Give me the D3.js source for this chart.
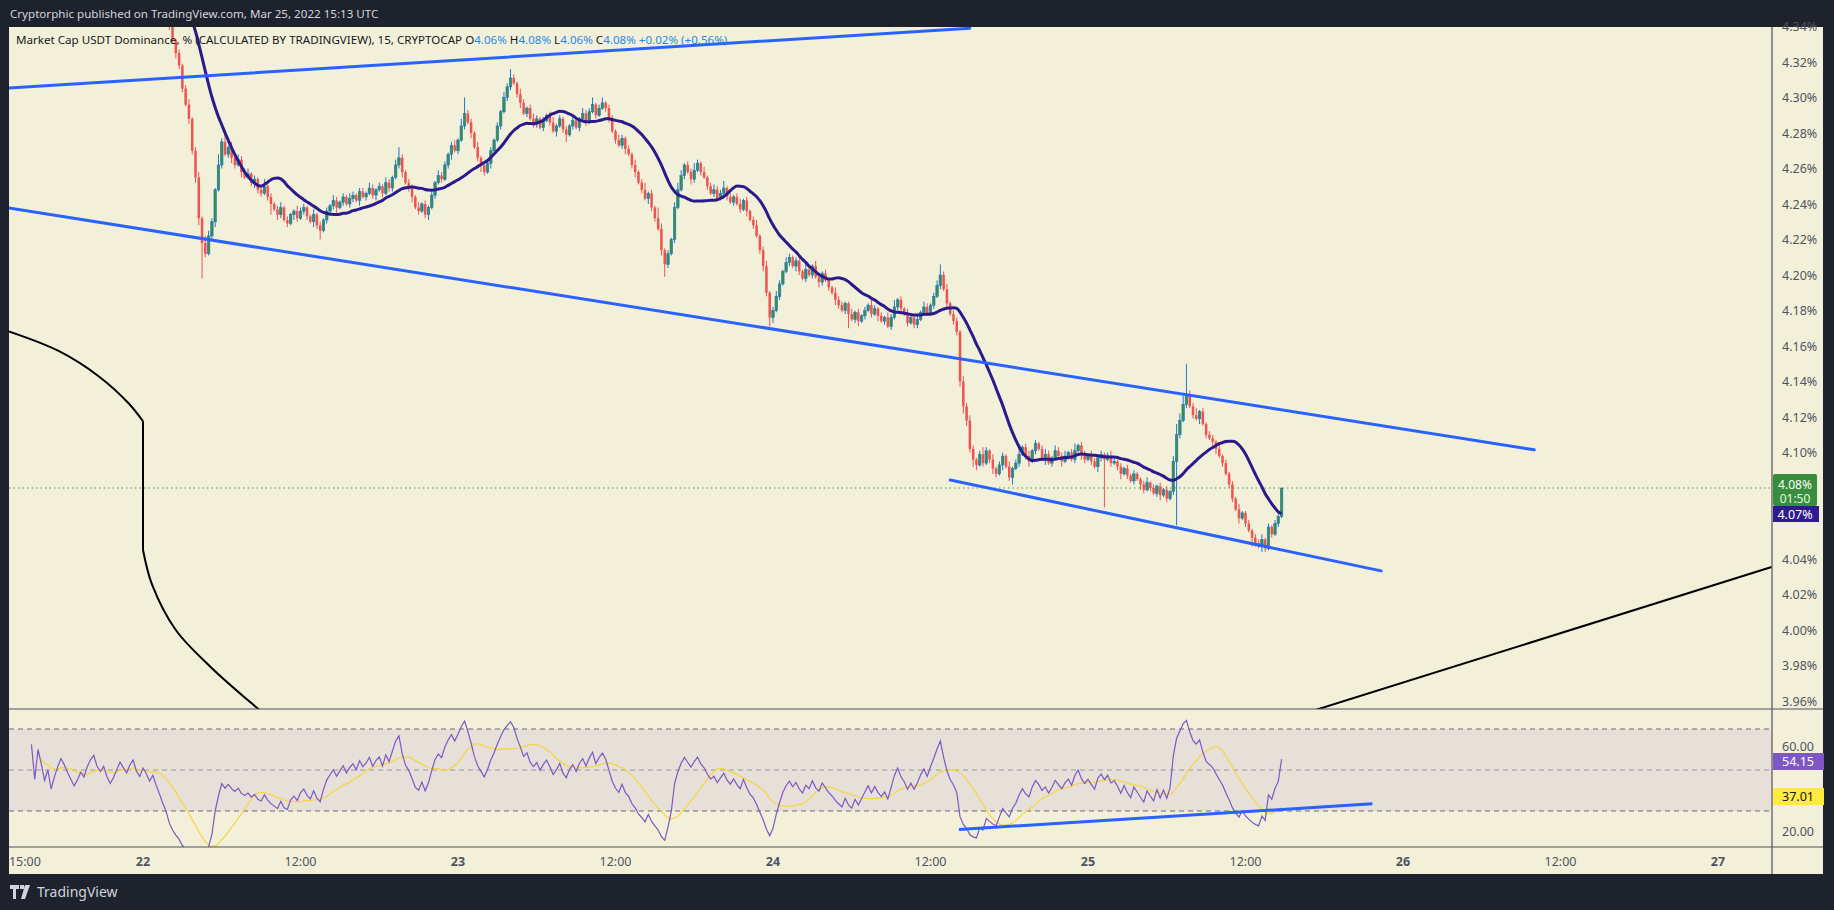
<!DOCTYPE html>
<html><head><meta charset="utf-8">
<script src="https://cdn.jsdelivr.net/npm/d3@7"></script>
<style>body{margin:0;background:#1e222d;overflow:hidden}svg{display:block;font-family:"Noto Sans",Roboto,sans-serif}</style>
</head><body><svg id="c" width="1834" height="910"></svg>
<script>
// 15-minute closes, in thousandths of a percent above 4.000%, starting Mar 21 15:00 UTC
const closes = [
371,368,373,370, 374,372,369,371, 366,369,372,375, 373,370,367,364,
366,369,367,371, 374,376,372,370, 372,368,365,367, 370,373,371,369,
372,374,370,368, 371,369,366,368, 364,360,355,350, 340,332,325,318,
305,296,288,270, 255,232,218,212, 222,230,248,262, 275,268,272,266,
262,265,258,255, 257,252,254,248, 246,250,244,240, 237,234,238,231,
229,234,236,232, 236,238,233,230, 234,228,225,231, 236,239,242,238,
241,244,240,243, 245,242,247,244, 246,249,245,248, 250,246,252,249,
255,262,266,258, 252,249,244,238, 236,240,234,238, 245,252,256,254,
262,268,273,270, 276,284,291,286, 280,272,266,262, 258,263,270,276,
284,292,300,306, 311,308,302,297, 291,294,288,285, 288,283,287,290,
286,281,284,288, 282,279,284,287, 283,288,291,287, 292,296,290,294,
297,294,288,281, 276,273,277,271, 268,262,258,252, 248,243,246,238,
232,226,214,206, 212,220,238,248, 256,262,258,254, 259,263,258,255,
250,246,248,243, 246,249,244,241, 244,240,237,242, 236,231,228,222,
214,205,190,176, 180,188,195,202, 207,210,205,208, 202,198,203,200,
205,199,196,201, 197,193,190,186, 183,180,184,178, 175,179,174,177,
180,183,178,181, 177,174,176,171, 176,182,186,181, 178,173,176,172,
175,179,182,178, 183,188,194,200, 192,184,178,174, 168,140,126,118,
102,96,93,99, 94,101,96,91, 88,93,98,92, 86,91,94,99,
103,98,95,101, 105,102,97,99, 94,97,101,98, 95,98,100,96,
101,104,99,96, 98,95,92,97, 99,96,98,94, 95,92,88,91,
87,84,88,85, 82,79,83,80, 77,81,76,79, 74,78,95,110,
118,127,132,126, 121,119,123,116, 110,108,106,102, 98,94,88,82,
74,68,63,66, 60,56,52,49, 47,51,46,58, 54,60,64,80
];
const wickUp = [
2,1,3,1, 2,2,1,3, 1,2,4,1, 2,1,1,3,
1,3,2,1, 2,1,3,2, 1,1,2,3, 2,3,1,1,
3,1,2,2, 1,2,1,3, 2,1,3,1, 2,4,1,2,
1,2,3,1, 2,3,1,4, 3,2,1,6, 2,4,1,3,
1,3,2,2, 3,1,2,1, 2,4,1,2, 1,2,3,1,
2,1,1,3, 2,2,1,1, 3,1,2,1, 2,1,3,2,
1,2,1,3, 2,1,2,2, 1,3,2,1, 2,1,3,2,
1,3,6,2, 1,2,2,1, 3,1,2,1, 2,1,3,2,
2,1,2,3, 1,4,9,2, 2,1,3,1, 1,2,2,1,
2,1,3,2, 5,2,1,3, 2,1,2,3, 2,1,2,1,
2,3,1,2, 1,2,1,3, 2,1,3,2, 2,4,1,2,
3,1,2,2, 1,3,2,1, 2,1,3,1, 2,4,1,2,
1,6,3,1, 2,1,3,4, 3,1,2,2, 4,2,1,3,
1,2,3,2, 2,4,1,2, 1,2,3,1, 2,1,2,3,
1,2,3,1, 2,3,2,1, 3,2,1,2, 2,1,4,2,
1,3,2,1, 2,1,1,3, 2,2,1,1, 3,1,2,1,
2,1,3,2, 1,2,1,3, 2,4,1,2, 1,3,2,1,
2,1,3,2, 1,2,3,6, 2,3,1,2, 2,1,3,2,
3,2,1,2, 4,2,1,3, 1,2,2,1, 3,1,2,5,
1,2,3,1, 2,1,2,3, 2,1,3,2, 2,3,1,2,
4,1,2,2, 1,3,2,1, 2,1,2,3, 2,1,2,1,
2,1,2,1, 1,2,3,1, 2,1,2,1, 2,1,3,6,
4,5,18,3, 2,4,1,2, 1,2,2,1, 3,1,2,1,
2,1,3,1, 1,2,1,2, 2,3,1,2, 1,2,2,0
];
const wickDn = [
1,2,1,3, 2,1,2,1, 3,1,2,2, 1,3,1,2,
2,1,3,1, 1,2,2,3, 1,3,1,2, 2,1,2,1,
1,2,3,1, 2,1,2,3, 1,2,1,3, 2,1,3,2,
2,1,3,2, 3,4,20,2, 1,2,3,1, 2,1,2,3,
2,1,3,1, 1,2,3,2, 2,1,2,6, 1,3,2,1,
2,1,3,2, 1,2,2,1, 3,2,5,1, 2,1,2,3,
1,2,1,2, 2,1,3,1, 2,1,2,3, 1,2,1,2,
2,1,2,3, 1,2,3,1, 2,1,2,3, 1,2,1,2,
1,2,3,1, 2,1,2,1, 3,1,2,4, 2,1,3,1,
1,2,1,2, 2,1,2,3, 1,2,1,2, 2,1,2,1,
2,1,3,1, 2,4,1,2, 1,2,1,3, 2,1,2,1,
1,2,2,1, 2,1,2,3, 1,2,3,1, 2,1,3,2,
2,1,3,7, 2,1,2,1, 1,2,1,3, 2,1,2,1,
2,1,2,1, 1,3,2,1, 2,1,2,1, 3,1,2,1,
2,3,2,5, 3,1,2,1, 1,2,1,3, 2,1,2,1,
2,1,3,2, 1,2,1,3, 2,1,2,8, 1,2,3,1,
2,1,2,1, 3,1,2,1, 2,1,2,3, 1,2,1,2,
2,1,2,1, 1,2,1,2, 1,3,1,2, 2,3,4,3,
2,4,3,1, 2,1,2,3, 2,1,3,1, 2,4,1,2,
1,2,3,1, 2,1,2,4, 1,2,1,2, 3,1,2,1,
2,1,3,2, 1,2,1,3, 2,27,1,2, 1,2,3,1,
2,1,2,1, 3,2,1,2, 1,2,3,1, 2,1,2,36,
2,1,2,1, 2,1,3,1, 2,1,2,3, 1,2,1,2,
2,1,3,1, 2,1,5,2, 1,3,2,1, 2,1,2,1
];
const startTime = Date.UTC(2022,2,21,15,0);
const barMinutes = 15;
const priceTicks = [3.96,3.98,4.00,4.02,4.04,4.10,4.12,4.14,4.16,4.18,4.20,4.22,4.24,4.26,4.28,4.30,4.32,4.34];
const rsiTicks = [20,60];
const timeTicks = [
 {t:Date.UTC(2022,2,21,15), label:"15:00", bold:false},
 {t:Date.UTC(2022,2,22,0), label:"22", bold:true},
 {t:Date.UTC(2022,2,22,12), label:"12:00", bold:false},
 {t:Date.UTC(2022,2,23,0), label:"23", bold:true},
 {t:Date.UTC(2022,2,23,12), label:"12:00", bold:false},
 {t:Date.UTC(2022,2,24,0), label:"24", bold:true},
 {t:Date.UTC(2022,2,24,12), label:"12:00", bold:false},
 {t:Date.UTC(2022,2,25,0), label:"25", bold:true},
 {t:Date.UTC(2022,2,25,12), label:"12:00", bold:false},
 {t:Date.UTC(2022,2,26,0), label:"26", bold:true},
 {t:Date.UTC(2022,2,26,12), label:"12:00", bold:false},
 {t:Date.UTC(2022,2,27,0), label:"27", bold:true}
];
const channelTop = [[Date.UTC(2022,2,21,13,10),4.305],[Date.UTC(2022,2,24,15,0),4.339]];
const channelMid = [[Date.UTC(2022,2,21,13,10),4.2385],[Date.UTC(2022,2,26,10,0),4.1015]];
const channelLow = [[Date.UTC(2022,2,24,13,30),4.0845],[Date.UTC(2022,2,25,22,20),4.0333]];
const rsiTrend = [[Date.UTC(2022,2,24,14,10),21],[Date.UTC(2022,2,25,21,40),33.5]];
const leftCurve = [[Date.UTC(2022,2,21,13,10),4.1697],[Date.UTC(2022,2,21,17,34),4.1572],[Date.UTC(2022,2,21,20,40),4.1427],[Date.UTC(2022,2,21,22,55),4.1276],[Date.UTC(2022,2,22,0,0),4.1176]];
const leftCurve2 = [[Date.UTC(2022,2,22,0,0),4.0451],[Date.UTC(2022,2,22,0,42),4.0254],[Date.UTC(2022,2,22,2,30),4.0],[Date.UTC(2022,2,22,5,9),3.9792],[Date.UTC(2022,2,22,8,42),3.956],[Date.UTC(2022,2,22,10,0),3.948]];
const rightLine = [[Date.UTC(2022,2,25,14,20),3.948],[Date.UTC(2022,2,27,4,5),4.0355]];
const legendText = "Market Cap USDT Dominance, % (CALCULATED BY TRADINGVIEW), 15, CRYPTOCAP";
const ohlc = {O:"4.06%",H:"4.08%",L:"4.06%",C:"4.08%",chg:"+0.02% (+0.56%)"};
const lastLabels = {price:"4.08%", countdown:"01:50", ma:"4.07%", rsi:"54.15", rsiMa:"37.01"};

const svg = d3.select("#c");
const L=9, R=1772, PT=27, PB=709, RT=709, RB=847, TB=874;
const x = d3.scaleUtc().domain([Date.UTC(2022,2,22), Date.UTC(2022,2,27)]).range([143,1718]);
const y = d3.scaleLinear().domain([3.96,4.32]).range([701,62]);
const yr = d3.scaleLinear().domain([30,70]).range([811,729]);

const bars = closes.map((c,i)=>{
  const close = 4 + c/1000, open = 4 + (i? closes[i-1] : c)/1000;
  return {t:startTime + i*barMinutes*60000, open, close,
    high: Math.max(open,close)+wickUp[i]/1000, low: Math.min(open,close)-wickDn[i]/1000};
});
const ma = bars.map((b,i)=> i<19?null:d3.mean(bars.slice(i-19,i+1),d=>d.close));
const rsi=[]; let ag=0, al=0;
bars.forEach((b,i)=>{ if(!i){rsi.push(null);return;}
  const ch=b.close-bars[i-1].close, g=Math.max(ch,0), l=Math.max(-ch,0);
  if(i<=14){ag+=g/14; al+=l/14;} else {ag=(ag*13+g)/14; al=(al*13+l)/14;}
  rsi.push(i<2?null: (al===0?100:100-100/(1+ag/al)));
});
const rsiMa = rsi.map((v,i)=>{const s=rsi.slice(Math.max(0,i-13),i+1).filter(d=>d!=null); return s.length<4?null:d3.mean(s);});

svg.append("rect").attr("width",1834).attr("height",910).attr("fill","#1e222d");
svg.append("rect").attr("x",L).attr("y",PT).attr("width",1823-L).attr("height",TB-PT).attr("fill","#f3f0da");
svg.append("text").attr("x",10).attr("y",18).attr("fill","#d1d4dc").attr("font-size",11.6).text("Cryptorphic published on TradingView.com, Mar 25, 2022 15:13 UTC");

const defs=svg.append("defs");
defs.append("clipPath").attr("id","cp").append("rect").attr("x",L).attr("y",PT).attr("width",R-L).attr("height",PB-PT);
defs.append("clipPath").attr("id","cr").append("rect").attr("x",L).attr("y",RT).attr("width",R-L).attr("height",RB-RT);

const pg = svg.append("g").attr("clip-path","url(#cp)");
const line = d3.line().x(d=>x(d[0])).y(d=>y(d[1]));
pg.append("path").attr("d",d3.line().x(d=>x(d[0])).y(d=>y(d[1])).curve(d3.curveCatmullRom)(leftCurve)).attr("fill","none").attr("stroke","#000").attr("stroke-width",2);
pg.append("path").attr("d",line([leftCurve[leftCurve.length-1],leftCurve2[0]])).attr("fill","none").attr("stroke","#000").attr("stroke-width",2);
pg.append("path").attr("d",d3.line().x(d=>x(d[0])).y(d=>y(d[1])).curve(d3.curveCatmullRom)(leftCurve2)).attr("fill","none").attr("stroke","#000").attr("stroke-width",2);
pg.append("path").attr("d",line(rightLine)).attr("fill","none").attr("stroke","#000").attr("stroke-width",2);
pg.append("line").attr("x1",L).attr("x2",R).attr("y1",y(bars[bars.length-1].close)).attr("y2",y(bars[bars.length-1].close)).attr("stroke","#43a047").attr("stroke-dasharray","1.5,3").attr("stroke-width",1.2);
const cw=2.5;
const cg=pg.append("g");
cg.selectAll("line.w").data(bars).join("line").attr("x1",d=>x(d.t)).attr("x2",d=>x(d.t)).attr("y1",d=>y(d.high)).attr("y2",d=>y(d.low))
  .attr("stroke",d=>d.close>=d.open?"#1e76d2":"#ef5350").attr("stroke-width",1);
cg.selectAll("rect").data(bars).join("rect").attr("x",d=>x(d.t)-cw/2).attr("width",cw)
  .attr("y",d=>y(Math.max(d.open,d.close))).attr("height",d=>Math.max(1,Math.abs(y(d.open)-y(d.close))))
  .attr("fill",d=>d.close>=d.open?"#3b8f3f":"#ef5350").attr("stroke",d=>d.close>=d.open?"#1e76d2":"none").attr("stroke-width",0.6);
pg.append("path").attr("d",d3.line().defined((d,i)=>ma[i]!=null).x(d=>x(d.t)).y((d,i)=>y(ma[i])).curve(d3.curveMonotoneX)(bars))
  .attr("fill","none").attr("stroke","#2a1b8c").attr("stroke-width",3);
[channelTop,channelMid,channelLow].forEach(c=>pg.append("path").attr("d",line(c)).attr("stroke","#2962ff").attr("stroke-width",3).attr("fill","none").attr("stroke-linecap","round"));

const lg=svg.append("text").attr("x",16).attr("y",44).attr("font-size",11.6).attr("fill","#131722");
lg.append("tspan").text(legendText+"  ");
["O","H","L","C"].forEach(k=>{lg.append("tspan").text(k);lg.append("tspan").attr("fill","#1e88e5").text(ohlc[k]+"  ");});
lg.append("tspan").attr("fill","#1e88e5").text(ohlc.chg);

const rg=svg.append("g").attr("clip-path","url(#cr)");
rg.append("rect").attr("x",L).attr("width",R-L).attr("y",yr(70)).attr("height",yr(30)-yr(70)).attr("fill","#e7e0d9");
[70,50,30].forEach(v=>rg.append("line").attr("x1",L).attr("x2",R).attr("y1",yr(v)).attr("y2",yr(v)).attr("stroke",v===50?"#9a98a0":"#6b6b72").attr("stroke-dasharray","5,4").attr("stroke-width",1));
rg.append("path").attr("d",d3.line().defined((d,i)=>rsiMa[i]!=null).x(d=>x(d.t)).y((d,i)=>yr(rsiMa[i]))(bars)).attr("fill","none").attr("stroke","#f5d63d").attr("stroke-width",1.2);
rg.append("path").attr("d",d3.line().defined((d,i)=>rsi[i]!=null).x(d=>x(d.t)).y((d,i)=>yr(rsi[i]))(bars)).attr("fill","none").attr("stroke","#7e57c2").attr("stroke-width",1.2);
rg.append("path").attr("d",d3.line().x(d=>x(d[0])).y(d=>yr(d[1]))(rsiTrend)).attr("stroke","#2962ff").attr("stroke-width",3).attr("fill","none");

[[L,PB,R+51,PB],[L,RB,1823,RB],[R,PT,R,TB]].forEach(a=>svg.append("line").attr("x1",a[0]).attr("y1",a[1]).attr("x2",a[2]).attr("y2",a[3]).attr("stroke","#50535e").attr("stroke-width",1.2));

const ax=svg.append("g").attr("font-size",12.5).attr("fill","#50535e");
priceTicks.forEach(v=>ax.append("text").attr("x",1782).attr("y",y(v)+4.5).text(v.toFixed(2)+"%"));
rsiTicks.forEach(v=>ax.append("text").attr("x",1782).attr("y",yr(v)+(v===60?1:4.5)).text(v.toFixed(2)));
timeTicks.forEach(d=>ax.append("text").attr("x",x(d.t)).attr("y",866).attr("text-anchor",d.label==="15:00"?"start":"middle").attr("font-weight",d.bold?"bold":"normal").text(d.label).attr("dx",d.label==="15:00"?-16:0));

const ly=y(bars[bars.length-1].close);
svg.append("rect").attr("x",R+1).attr("y",ly-14).attr("width",44).attr("height",32).attr("rx",2).attr("fill","#388e3c");
svg.append("text").attr("x",R+23).attr("y",ly+1).attr("text-anchor","middle").attr("font-size",12).attr("fill","#fff").text(lastLabels.price);
svg.append("text").attr("x",R+23).attr("y",ly+15).attr("text-anchor","middle").attr("font-size",12).attr("fill","#e8f5e9").text(lastLabels.countdown);
svg.append("rect").attr("x",R+1).attr("y",ly+18).attr("width",46).attr("height",16).attr("fill","#2e1a94");
svg.append("text").attr("x",R+23).attr("y",ly+30.5).attr("text-anchor","middle").attr("font-size",12.5).attr("fill","#fff").text(lastLabels.ma);
svg.append("rect").attr("x",R+1).attr("y",yr(54.15)-8.5).attr("width",51).attr("height",17).attr("fill","#7e57c2");
svg.append("text").attr("x",R+26).attr("y",yr(54.15)+4.5).attr("text-anchor","middle").attr("font-size",12.5).attr("fill","#fff").text(lastLabels.rsi);
svg.append("rect").attr("x",R+1).attr("y",yr(37.01)-8.5).attr("width",51).attr("height",17).attr("fill","#ffeb3b");
svg.append("text").attr("x",R+26).attr("y",yr(37.01)+4.5).attr("text-anchor","middle").attr("font-size",12.5).attr("fill","#131722").text(lastLabels.rsiMa);

const f=svg.append("g").attr("transform","translate(10,885)");
f.append("path").attr("d","M0 0h9v4h-3v10h-3v-10h-3z M10 0h4v4h-4z M15 0h5l-5 14h-4z").attr("fill","#d1d4dc");
f.append("text").attr("x",27).attr("y",12).attr("font-size",14).attr("fill","#d1d4dc").text("TradingView");
</script></body></html>
